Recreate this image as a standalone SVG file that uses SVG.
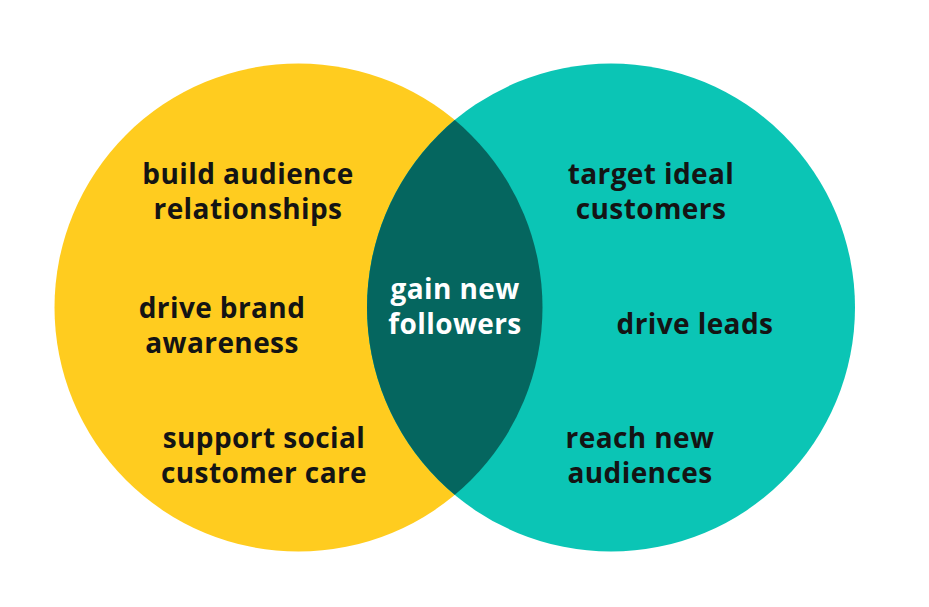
<svg xmlns="http://www.w3.org/2000/svg" width="929" height="607" viewBox="0 0 929 607">
<style>
.t{font-family:"Open Sans","Liberation Sans",sans-serif;font-weight:bold;font-size:28px;letter-spacing:0.4px;fill:#141414;text-anchor:middle}
.w{fill:#ffffff}
</style>
<defs>
<clipPath id="lc"><circle cx="298.5" cy="307.5" r="244"/></clipPath>
</defs>
<rect width="929" height="607" fill="#ffffff"/>
<g id="left-circle"><circle cx="298.5" cy="307.5" r="244" fill="#FFCC1F"/></g>
<g id="right-circle"><circle cx="611" cy="307.5" r="244" fill="#0BC5B5"/></g>
<g id="overlap"><circle cx="611" cy="307.5" r="244" fill="#05665F" clip-path="url(#lc)"/></g>
<g id="labels-left">
<text class="t" x="248" y="184">build audience</text>
<text class="t" x="248" y="219">relationships</text>
<text class="t" x="222" y="318">drive brand</text>
<text class="t" x="222" y="353">awareness</text>
<text class="t" x="264" y="448">support social</text>
<text class="t" x="264" y="483">customer care</text>
</g>
<g id="labels-center">
<text class="t w" x="455" y="299">gain new</text>
<text class="t w" x="455" y="334">followers</text>
</g>
<g id="labels-right">
<text class="t" x="651" y="184">target ideal</text>
<text class="t" x="651" y="219">customers</text>
<text class="t" x="695" y="334">drive leads</text>
<text class="t" x="640" y="448">reach new</text>
<text class="t" x="640" y="483">audiences</text>
</g>
</svg>
